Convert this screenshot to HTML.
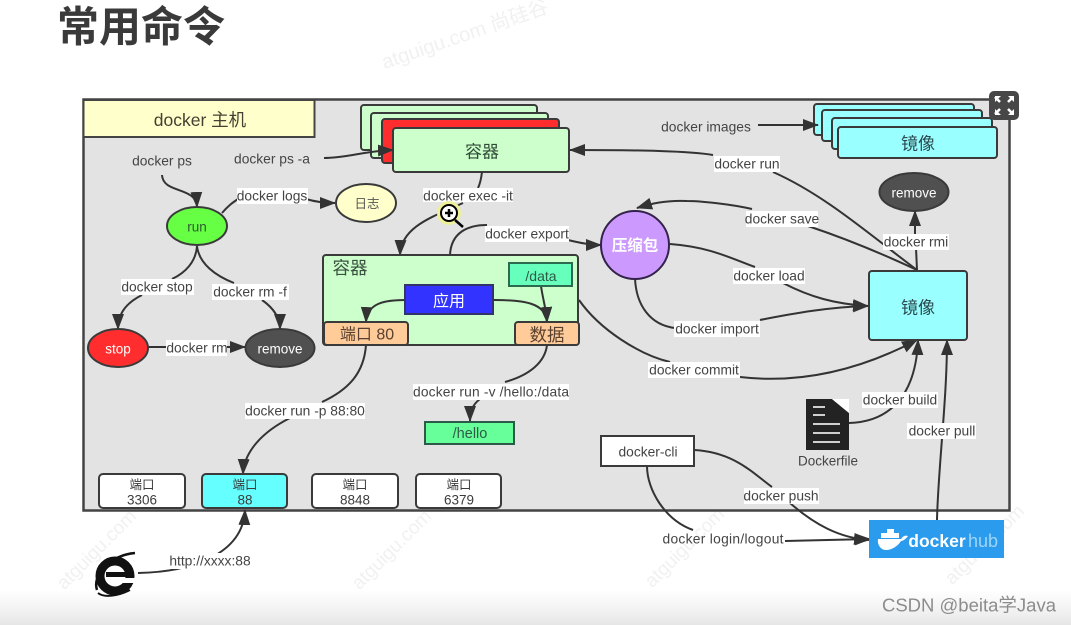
<!DOCTYPE html>
<html><head><meta charset="utf-8"><style>
html,body{margin:0;padding:0;background:#fff}
#p{position:relative;width:1071px;height:625px;overflow:hidden;background:linear-gradient(#fff 0,#fff 590px,#f1f1f1 612px,#e6e6e6 625px)}
svg{position:absolute;left:0;top:0;filter:blur(.3px)}
text{font-family:"Liberation Sans","Noto Sans CJK SC",sans-serif;fill:#3c3c3c;text-anchor:middle;dominant-baseline:central}
.l{font-size:13.8px;fill:#444}
.c{fill:none;stroke:#333;stroke-width:2}
.n{stroke:#3a3a3a;stroke-width:2}
.wm{font-size:19px;fill:#f1f1f1}
</style></head><body><div id="p">
<svg width="1071" height="625" viewBox="0 0 1071 625" xmlns="http://www.w3.org/2000/svg">
<defs><marker id="a" markerUnits="userSpaceOnUse" markerWidth="17" markerHeight="14" refX="15" refY="6.500" orient="auto"><path d="M0 0.500L16 6.500L0 12.500Z" fill="#333"/></marker></defs>

<text x="141" y="27" style="font-size:42px;font-weight:700;fill:#3a3a3a">常用命令</text>
<text transform="translate(465,35) rotate(-19)" class="wm" style="font-size:20px">atguigu.com 尚硅谷</text>
<text transform="translate(97,550) rotate(-45)" class="wm">atguigu.com</text>
<text transform="translate(392,550) rotate(-45)" class="wm">atguigu.com</text>
<text transform="translate(685,548) rotate(-45)" class="wm">atguigu.com</text>
<text transform="translate(985,545) rotate(-45)" class="wm">atguigu.com</text>

<rect x="83.500" y="99.500" width="926" height="411" fill="#e3e3e3" stroke="#444" stroke-width="2.500"/>
<rect x="83.500" y="100" width="231" height="37" fill="#ffffcc" stroke="#444" stroke-width="2"/>
<text x="200" y="120" style="font-size:17.500px;fill:#444032">docker 主机</text>

<!-- containers stack -->
<rect x="361" y="105" width="176" height="45" rx="3" fill="#ccffcc" class="n"/>
<rect x="371" y="113" width="177" height="45" rx="3" fill="#ccffcc" class="n"/>
<rect x="382" y="119" width="177" height="44" rx="3" fill="#ff2d2d" class="n"/>
<rect x="393" y="128" width="176" height="44" rx="3" fill="#ccffcc" class="n"/>
<text x="482" y="152" style="font-size:17px;fill:#2f4a36">容器</text>

<!-- image stack -->
<rect x="814" y="104" width="160" height="31" rx="3" fill="#99ffff" class="n"/>
<rect x="822" y="110" width="160" height="31" rx="3" fill="#99ffff" class="n"/>
<rect x="832" y="118" width="160" height="31" rx="3" fill="#99ffff" class="n"/>
<rect x="838" y="127" width="159" height="31" rx="3" fill="#99ffff" class="n"/>
<text x="918" y="144" style="font-size:17px;fill:#2b4a4f">镜像</text>

<!-- connectors -->
<g>
<path class="c" marker-end="url(#a)" d="M162 175C163 194 196 186 197 207"/>
<path class="c" marker-end="url(#a)" d="M324 158C346 158 365 151 393 150"/>
<path class="c" d="M222 213C228 206 232 203 238 199"/>
<path class="c" marker-end="url(#a)" d="M306 199C316 202 325 203 335 203"/>
<path class="c" d="M197 246C196 262 185 273 172 279"/>
<path class="c" marker-end="url(#a)" d="M142 295C128 302 118 312 118 329"/>
<path class="c" d="M197 246C199 264 216 276 234 283"/>
<path class="c" marker-end="url(#a)" d="M262 300C272 307 280 316 280 329"/>
<path class="c" marker-end="url(#a)" d="M148 347L245 347"/>
<path class="c" d="M482 172C481 180 480 184 478 188"/>
<path class="c" marker-end="url(#a)" d="M463 203C435 216 401 226 400 255"/>
<path class="c" d="M450 255C451 233 467 225 487 225"/>
<path class="c" marker-end="url(#a)" d="M568 240C580 243 590 245 601 245"/>
<path class="c" d="M366 345C364 372 350 389 322 402"/>
<path class="c" marker-end="url(#a)" d="M290 418C262 432 244 452 243 474"/>
<path class="c" d="M547 345C545 362 530 375 505 382"/>
<path class="c" marker-end="url(#a)" d="M480 399C472 405 470 412 470 421"/>
<path class="c" marker-end="url(#a)" d="M138 573C190 572 243 555 245 510"/>
<path class="c" marker-end="url(#a)" d="M758 125L818 125"/>
<path class="c" marker-end="url(#a)" d="M713 155C690 151 640 150 570 150"/>
<path class="c" d="M773 172C825 195 870 235 917 270"/>
<path class="c" marker-end="url(#a)" d="M752 209C730 204 700 201 687 201C665 200 650 204 637 208"/>
<path class="c" d="M808 226C850 240 885 255 917 270"/>
<path class="c" d="M917 270L916 248"/>
<path class="c" marker-end="url(#a)" d="M915 234L915 211"/>
<path class="c" d="M670 244C710 247 730 258 755 267"/>
<path class="c" marker-end="url(#a)" d="M783 283C810 297 835 304 868 306"/>
<path class="c" d="M635 278C636 305 650 325 675 328"/>
<path class="c" marker-end="url(#a)" d="M760 320C795 313 830 307 868 306"/>
<path class="c" d="M579 300C600 330 640 355 670 362"/>
<path class="c" marker-end="url(#a)" d="M740 377C800 384 860 370 917 340"/>
<path class="c" marker-end="url(#a)" d="M849 423C890 422 916 395 918 340"/>
<path class="c" marker-end="url(#a)" d="M937 520C938 470 947 400 947 340"/>
<path class="c" d="M694 450C735 452 755 475 772 487"/>
<path class="c" marker-end="url(#a)" d="M790 503C815 525 840 538 869 540"/>
<path class="c" d="M647 466C647 490 665 520 693 530"/>
<path class="c" marker-end="url(#a)" d="M785 541L870 539"/>
</g>

<!-- Ellipses -->
<ellipse cx="197" cy="226" rx="30" ry="19" fill="#66ff44" class="n"/>
<text x="197" y="227" style="font-size:13.500px;fill:#2e5a2e">run</text>
<ellipse cx="366" cy="203" rx="30" ry="19" fill="#ffffcc" class="n"/>
<text x="367" y="204" style="font-size:12.500px;fill:#555">日志</text>
<ellipse cx="118" cy="348" rx="30" ry="19" fill="#ff2d2d" class="n"/>
<text x="118" y="349" style="font-size:13.500px;fill:#fff">stop</text>
<ellipse cx="280" cy="348" rx="34.500" ry="19" fill="#505050" class="n"/>
<text x="280" y="349" style="font-size:13.500px;fill:#fff">remove</text>
<ellipse cx="914" cy="192" rx="34.500" ry="19" fill="#505050" class="n"/>
<text x="914" y="193" style="font-size:13.500px;fill:#fff">remove</text>
<circle cx="635" cy="245" r="34" fill="#cc99ff" stroke="#33234a" stroke-width="2"/>
<text x="635" y="246" style="font-size:15.500px;font-weight:700;fill:#fff">压缩包</text>

<!-- Inner container -->
<rect x="323" y="255" width="255" height="90" rx="3" fill="#ccffcc" class="n"/>
<text x="350" y="268" style="font-size:17.500px;fill:#3a5040">容器</text>
<path class="c" marker-end="url(#a)" d="M405 300C385 300 367 303 366 322"/>
<path class="c" marker-end="url(#a)" d="M494 300C524 300 546 303 547 322"/>
<path class="c" marker-end="url(#a)" d="M541 286C543 300 546 308 547 322"/>
<rect x="509" y="263" width="63" height="23" fill="#66ffbb" stroke="#2d6b50" stroke-width="2"/>
<text x="541" y="276" style="font-size:14px;fill:#2f5a48">/data</text>
<rect x="405" y="285" width="88" height="29" fill="#3333ff" stroke="#33336b" stroke-width="2"/>
<text x="449" y="302" style="font-size:16px;fill:#fff">应用</text>
<rect x="324" y="322" width="84" height="23" rx="3" fill="#ffcc99" class="n"/>
<text x="367" y="335" style="font-size:16px;fill:#5a4030">端口 80</text>
<rect x="515" y="322" width="64" height="23" rx="3" fill="#ffcc99" class="n"/>
<text x="547" y="335" style="font-size:17.500px;fill:#5a4030">数据</text>

<rect x="425" y="422" width="89" height="22" fill="#66ff99" stroke="#2d5a48" stroke-width="2"/>
<text x="470" y="434" style="font-size:14.500px;fill:#2f5a48">/hello</text>

<!-- big image -->
<rect x="869" y="271" width="98" height="69" rx="3" fill="#99ffff" class="n"/>
<text x="918" y="308" style="font-size:17px;fill:#2b4a4f">镜像</text>

<!-- Ports -->
<g>
<rect x="99" y="474" width="86" height="34" rx="4" fill="#fff" class="n"/>
<text x="142" y="485" style="font-size:12.500px">端口</text><text x="142" y="500" style="font-size:13.500px">3306</text>
<rect x="202" y="474" width="85" height="34" rx="4" fill="#66ffff" class="n"/>
<text x="245" y="485" style="font-size:12.500px">端口</text><text x="245" y="500" style="font-size:13.500px">88</text>
<rect x="312" y="474" width="86" height="34" rx="4" fill="#fff" class="n"/>
<text x="355" y="485" style="font-size:12.500px">端口</text><text x="355" y="500" style="font-size:13.500px">8848</text>
<rect x="416" y="474" width="85" height="34" rx="4" fill="#fff" class="n"/>
<text x="459" y="485" style="font-size:12.500px">端口</text><text x="459" y="500" style="font-size:13.500px">6379</text>
</g>

<!-- docker cli -->
<rect x="601" y="436" width="93" height="30" fill="#fff" class="n"/>
<text x="648" y="452" class="l">docker-cli</text>

<!-- dockerfile icon -->
<path d="M806 399L832 399L849 413L849 450L806 450Z" fill="#232323"/>
<path d="M832 399L849 399L849 413Z" fill="#fff"/>
<path d="M813 407H825M813 415H825M813 424H840M813 433H840M813 442H840" stroke="#cfcfcf" stroke-width="2"/>
<text x="828" y="461" style="font-size:13.500px;fill:#444">Dockerfile</text>

<!-- docker hub -->
<rect x="869" y="520" width="135" height="38" fill="#2b9bee"/>
<path d="M878 539H901C903 536 905 535 908 536C906 539 903 541 901 541C898 546 892 550 886 550C881 550 877 545 878 539Z" fill="#fff"/>
<path d="M881 533H899V538H881ZM887 529H894V533H887Z" fill="#fff"/>
<text x="937" y="541" style="font-size:17.500px;font-weight:700;fill:#fff">docker</text>
<text x="983" y="541" style="font-size:18px;fill:#9fd4f8">hub</text>

<!-- IE icon -->
<g>
<circle cx="115" cy="576" r="15" fill="none" stroke="#111" stroke-width="9"/>
<rect x="106" y="572" width="24" height="5" fill="#111"/>
<rect x="122" y="578" width="16" height="5" fill="#fff"/>
<path d="M97 590C92 575 110 555 135 553" fill="none" stroke="#111" stroke-width="2.500"/>
<path d="M98 593C104 598 118 596 130 590" fill="none" stroke="#111" stroke-width="2"/>
</g>

<!-- fullscreen button -->
<rect x="989" y="91" width="30" height="29" rx="5" fill="#474747"/>
<path d="M995 97L1000 102M1013 97L1008 102M995 114L1000 109M1013 114L1008 109" stroke="#fff" stroke-width="2.500"/>
<path d="M995 96H1001L995 102ZM1014 96V102L1008 96ZM995 115V109L1001 115ZM1014 115H1008L1014 109Z" fill="#fff"/>

<!-- labels -->
<g>
<text x="162" y="161" class="l">docker ps</text>
<text x="272" y="159" class="l">docker ps -a</text>
<text x="706" y="127" class="l">docker images</text>
<rect x="237" y="188" width="71" height="16" fill="#fff"/><text x="272" y="196" class="l">docker logs</text>
<rect x="423" y="188" width="90" height="14" fill="#fff"/><text x="468" y="196" class="l">docker exec -it</text>
<rect x="121" y="279" width="73" height="16" fill="#fff"/><text x="157" y="287" class="l">docker stop</text>
<rect x="212" y="284" width="77" height="16" fill="#fff"/><text x="250" y="292" class="l">docker rm -f</text>
<rect x="166" y="340" width="61" height="16" fill="#fff"/><text x="197" y="348" class="l">docker rm</text>
<rect x="485" y="226" width="84" height="16" fill="#fff"/><text x="527" y="234" class="l">docker export</text>
<rect x="714" y="156" width="66" height="16" fill="#fff"/><text x="747" y="164" class="l">docker run</text>
<rect x="746" y="211" width="72" height="16" fill="#fff"/><text x="782" y="219" class="l">docker save</text>
<rect x="883" y="234" width="66" height="16" fill="#fff"/><text x="916" y="242" class="l">docker rmi</text>
<rect x="733" y="268" width="72" height="16" fill="#fff"/><text x="769" y="276" class="l">docker load</text>
<rect x="674" y="321" width="86" height="16" fill="#fff"/><text x="717" y="329" class="l">docker import</text>
<rect x="648" y="362" width="92" height="16" fill="#fff"/><text x="694" y="370" class="l">docker commit</text>
<rect x="245" y="403" width="120" height="16" fill="#fff"/><text x="305" y="411" class="l">docker run -p 88:80</text>
<rect x="413" y="384" width="156" height="16" fill="#fff"/><text x="491" y="392" class="l" textLength="156">docker run -v /hello:/data</text>
<rect x="862" y="392" width="76" height="16" fill="#fff"/><text x="900" y="400" class="l">docker build</text>
<rect x="907" y="423" width="69" height="16" fill="#fff"/><text x="942" y="431" class="l">docker pull</text>
<rect x="744" y="488" width="75" height="16" fill="#fff"/><text x="781" y="496" class="l">docker push</text>
<text x="723" y="539" class="l" textLength="121">docker login/logout</text>
<rect x="168" y="553" width="83" height="16" fill="#fff"/><text x="210" y="561" class="l">http://xxxx:88</text>
</g>

<!-- magnifier -->
<circle cx="449" cy="213" r="12" fill="#eef09a"/>
<path d="M455 220L463 227" stroke="#000" stroke-width="2.500"/>
<circle cx="449" cy="213" r="8" fill="#fff" stroke="#000" stroke-width="2"/>
<path d="M445 213H453M449 209V217" stroke="#000" stroke-width="2.500"/>

<text x="969" y="605" style="font-size:18.500px;fill:#8c8c8c">CSDN @beita学Java</text>
</svg>
</div></body></html>
